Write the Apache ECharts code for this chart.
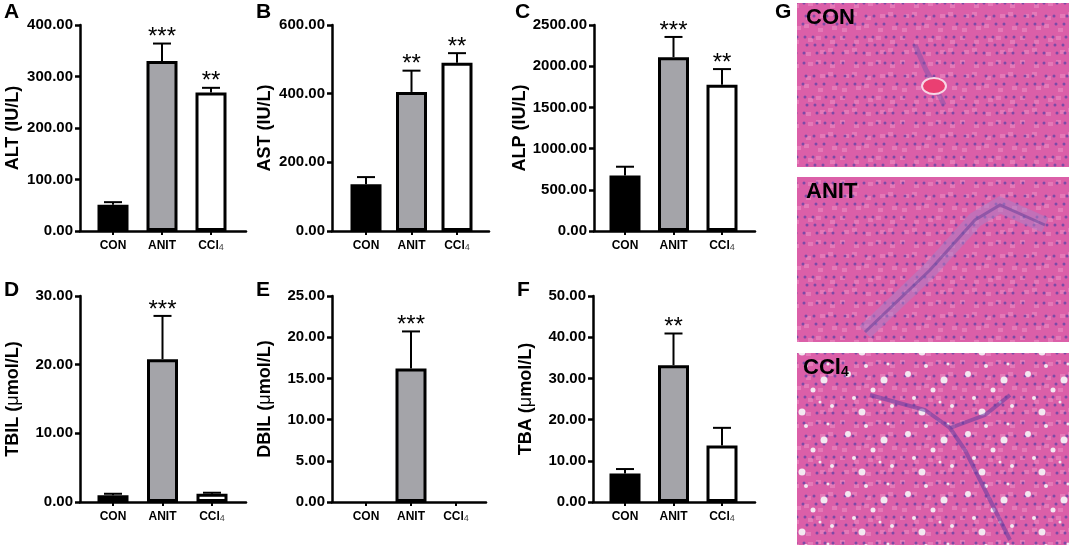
<!DOCTYPE html>
<html>
<head>
<meta charset="utf-8">
<title>Serum liver markers and liver histology</title>
<script src="https://cdn.jsdelivr.net/npm/echarts@6/dist/echarts.min.js"></script>
<style>
  html, body { margin: 0; padding: 0; background: #fff; }
  #main { width: 1072px; height: 545px; }
</style>
</head>
<body>
<div id="main"></div>
<script>
// groups on every x axis
var groups = ['CON', 'ANIT', 'CCl4'];

// A - ALT (IU/L)
var altMean = [51, 330, 269];
var altUpper = [56, 364, 278];
var altStars = ['', '***', '**'];
var altTicks = [0, 100, 200, 300, 400];

// B - AST (IU/L)
var astMean = [136, 405, 490];
var astUpper = [157, 467, 518];
var astStars = ['', '**', '**'];
var astTicks = [0, 200, 400, 600];

// C - ALP (IU/L)
var alpMean = [675, 2110, 1775];
var alpUpper = [780, 2355, 1965];
var alpStars = ['', '***', '**'];
var alpTicks = [0, 500, 1000, 1500, 2000, 2500];

// D - TBIL (umol/L)
var tbilMean = [1.0, 20.8, 1.2];
var tbilUpper = [1.2, 27.1, 1.35];
var tbilStars = ['', '***', ''];
var tbilTicks = [0, 10, 20, 30];

// E - DBIL (umol/L)
var dbilMean = [0, 16.2, 0];
var dbilUpper = [0, 20.7, 0];
var dbilStars = ['', '***', ''];
var dbilTicks = [0, 5, 10, 15, 20, 25];

// F - TBA (umol/L)
var tbaMean = [6.9, 33.2, 13.7];
var tbaUpper = [8.0, 40.9, 18.0];
var tbaStars = ['', '**', ''];
var tbaTicks = [0, 10, 20, 30, 40, 50];

var panels = [
  { letter: 'A', name: 'ALT (IU/L)', mean: altMean, upper: altUpper, stars: altStars, ticks: altTicks },
  { letter: 'B', name: 'AST (IU/L)', mean: astMean, upper: astUpper, stars: astStars, ticks: astTicks },
  { letter: 'C', name: 'ALP (IU/L)', mean: alpMean, upper: alpUpper, stars: alpStars, ticks: alpTicks },
  { letter: 'D', name: 'TBIL ({mu|μ}mol/L)', mean: tbilMean, upper: tbilUpper, stars: tbilStars, ticks: tbilTicks },
  { letter: 'E', name: 'DBIL ({mu|μ}mol/L)', mean: dbilMean, upper: dbilUpper, stars: dbilStars, ticks: dbilTicks },
  { letter: 'F', name: 'TBA ({mu|μ}mol/L)', mean: tbaMean, upper: tbaUpper, stars: tbaStars, ticks: tbaTicks }
];

// pixel layout of each panel (axis line ends and first/last bar centre)
var layout = [
  { left: 80, right: 246, c0: 113, c2: 211, top: 25, lx: 4, ly: 2 },
  { left: 332, right: 489, c0: 366, c2: 457, top: 25, lx: 256, ly: 2 },
  { left: 594, right: 755, c0: 625, c2: 722, top: 25, lx: 515, ly: 2 },
  { left: 80, right: 246, c0: 113, c2: 212, top: 296, lx: 4, ly: 280 },
  { left: 332, right: 486, c0: 366, c2: 456, top: 296, lx: 256, ly: 280 },
  { left: 593, right: 755, c0: 625, c2: 722, top: 296, lx: 517, ly: 280 }
];
var plotHeight = 206;
var barColors = ['#000000', '#a4a4a9', '#ffffff'];
var FONT = 'Liberation Sans, Arial, sans-serif';

var myChart = echarts.init(document.getElementById('main'));

var grids = [], xAxes = [], yAxes = [], series = [], graphics = [];

panels.forEach(function (p, k) {
  var L = layout[k];
  var band = (L.c2 - L.c0) / 2;
  var tMin = p.ticks[0], tMax = p.ticks[p.ticks.length - 1], tStep = p.ticks[1] - p.ticks[0];

  // grid for the axis frame
  grids.push({ left: L.left, top: L.top, width: L.right - L.left, height: plotHeight, containLabel: false, outerBoundsMode: 'none' });
  // grid for the bars (narrower, so bars sit where they do in the figure)
  grids.push({ left: L.c0 - band / 2, top: L.top, width: band * 3, height: plotHeight, containLabel: false, outerBoundsMode: 'none' });

  xAxes.push({
    gridIndex: 2 * k, type: 'category', data: groups,
    axisLine: { lineStyle: { color: '#000', width: 2.5 } },
    axisTick: { show: false }, axisLabel: { show: false }
  });
  xAxes.push({
    gridIndex: 2 * k + 1, type: 'category', data: groups,
    axisLine: { show: false },
    axisTick: { show: true, alignWithLabel: true, interval: 0, length: 4, lineStyle: { color: '#000', width: 2 } },
    axisLabel: {
      interval: 0, margin: 9, color: '#000', fontSize: 12, fontWeight: 'bold', fontFamily: FONT,
      formatter: function (v) { return v === 'CCl4' ? 'CCl{sub|4}' : v; },
      rich: { sub: { fontSize: 9, fontWeight: 'normal', color: '#444', fontFamily: FONT, verticalAlign: 'bottom' } }
    }
  });

  yAxes.push({
    gridIndex: 2 * k, type: 'value', min: tMin, max: tMax, interval: tStep,
    name: p.name, nameLocation: 'middle', nameGap: 58,
    nameTextStyle: {
      color: '#000', fontSize: 18, fontWeight: 'bold', fontFamily: FONT,
      rich: { mu: { color: '#000', fontSize: 18, fontWeight: 'normal', fontFamily: FONT } }
    },
    axisLine: { show: true, lineStyle: { color: '#000', width: 2.5 } },
    axisTick: { show: true, length: 5, lineStyle: { color: '#000', width: 2.5 } },
    axisLabel: {
      margin: 7, color: '#000', fontSize: 15, fontWeight: 'bold', fontFamily: FONT,
      formatter: function (v) { return v.toFixed(2); }
    },
    splitLine: { show: false }
  });
  yAxes.push({
    gridIndex: 2 * k + 1, type: 'value', min: tMin, max: tMax, interval: tStep, show: false
  });

  series.push({
    type: 'bar', xAxisIndex: 2 * k + 1, yAxisIndex: 2 * k + 1,
    barWidth: 31, silent: true,
    data: p.mean.map(function (v, i) {
      return { value: v, itemStyle: { color: barColors[i], borderColor: '#000', borderWidth: v > 0 ? 3 : 0 } };
    })
  });

  series.push({
    type: 'custom', xAxisIndex: 2 * k + 1, yAxisIndex: 2 * k + 1, silent: true,
    data: p.mean.map(function (v, i) { return [i, v, p.upper[i]]; }),
    encode: { x: 0, y: [1, 2] },
    renderItem: function (params, api) {
      var i = api.value(0);
      var base = api.coord([i, api.value(1)]);
      var top = api.coord([i, api.value(2)]);
      var children = [];
      if (api.value(2) > api.value(1)) {
        children.push({ type: 'line', shape: { x1: base[0], y1: base[1], x2: top[0], y2: top[1] }, style: { stroke: '#000', lineWidth: 2 } });
        children.push({ type: 'line', shape: { x1: top[0] - 9, y1: top[1], x2: top[0] + 9, y2: top[1] }, style: { stroke: '#000', lineWidth: 2 } });
      }
      var s = p.stars[params.dataIndex];
      if (s) {
        children.push({
          type: 'text', x: top[0], y: top[1] - 6,
          style: { text: s, fill: '#000', font: '24px ' + FONT, align: 'center', verticalAlign: 'middle' }
        });
      }
      return { type: 'group', children: children };
    }
  });

  graphics.push({
    type: 'text', left: L.lx, top: L.ly,
    style: { text: p.letter, fill: '#000', font: 'bold 21px ' + FONT }
  });
});

// liver tissue texture for panel G
function tissue(vacuoles) {
  var c = document.createElement('canvas');
  c.width = 60; c.height = 60;
  var g = c.getContext('2d');
  g.fillStyle = '#db5fa8';
  g.fillRect(0, 0, 60, 60);
  g.fillStyle = 'rgba(240,150,200,0.5)';
  for (var a = 0; a < 5; a++) {
    for (var b = 0; b < 5; b++) {
      g.fillRect(a * 12 + ((a + b * 2) % 3) * 2, b * 12 + ((a * 2 + b) % 3) * 2, 5, 4);
    }
  }
  g.fillStyle = '#7c4aa6';
  for (var i = 0; i < 6; i++) {
    for (var j = 0; j < 6; j++) {
      var dx = ((i * 3 + j * 7) % 5) - 2, dy = ((i * 5 + j * 3) % 5) - 2;
      g.beginPath();
      g.arc(i * 10 + 5 + dx, j * 10 + 5 + dy, 1.5, 0, Math.PI * 2);
      g.fill();
    }
  }
  if (vacuoles) {
    g.fillStyle = '#f3e9f1';
    var holes = [[8, 14, 3], [26, 6, 2], [44, 20, 3.5], [14, 38, 2], [33, 30, 2.5], [52, 46, 2], [22, 52, 3.5], [48, 4, 1.5], [40, 42, 1.5]];
    holes.forEach(function (h) {
      g.beginPath(); g.arc(h[0], h[1], h[2], 0, Math.PI * 2); g.fill();
    });
  }
  return c;
}
var plain = tissue(false), fatty = tissue(true);

graphics.push(
  { type: 'text', left: 775, top: 2, style: { text: 'G', fill: '#000', font: 'bold 21px ' + FONT } },
  { type: 'rect', shape: { x: 797, y: 3, width: 272, height: 164 }, style: { fill: { image: plain, repeat: 'repeat' } } },
  { type: 'rect', shape: { x: 797, y: 177, width: 272, height: 165 }, style: { fill: { image: plain, repeat: 'repeat' } } },
  { type: 'rect', shape: { x: 797, y: 353, width: 272, height: 192 }, style: { fill: { image: fatty, repeat: 'repeat' } } },
  { type: 'polyline', shape: { points: [[915, 45], [926, 70], [934, 84], [944, 105]] }, style: { stroke: 'rgba(120,80,170,0.45)', lineWidth: 5, fill: null } },
  { type: 'ellipse', shape: { cx: 934, cy: 86, rx: 12, ry: 8 }, style: { fill: '#ea3f72', stroke: '#f7d6e6', lineWidth: 2 } },
  { type: 'polyline', shape: { points: [[865, 332], [930, 270], [975, 220], [1000, 205], [1045, 225]] }, style: { stroke: 'rgba(170,130,200,0.5)', lineWidth: 16, fill: null } },
  { type: 'polyline', shape: { points: [[865, 332], [930, 270], [975, 220], [1000, 205], [1045, 225]] }, style: { stroke: 'rgba(95,60,150,0.5)', lineWidth: 3, fill: null } },
  { type: 'polyline', shape: { points: [[870, 395], [925, 410], [950, 428], [965, 450], [985, 490], [1010, 540]] }, style: { stroke: 'rgba(100,60,160,0.55)', lineWidth: 4, fill: null } },
  { type: 'polyline', shape: { points: [[950, 428], [985, 415], [1010, 395]] }, style: { stroke: 'rgba(100,60,160,0.55)', lineWidth: 4, fill: null } },
  { type: 'text', left: 806, top: 7, style: { text: 'CON', fill: '#000', font: 'bold 22px ' + FONT } },
  { type: 'text', left: 806, top: 181, style: { text: 'ANIT', fill: '#000', font: 'bold 22px ' + FONT } },
  {
    type: 'text', left: 803, top: 357,
    style: {
      text: '{a|CCl}{b|4}', fill: '#000',
      rich: {
        a: { fontSize: 22, fontWeight: 'bold', fontFamily: FONT, fill: '#000', verticalAlign: 'bottom' },
        b: { fontSize: 14, fontWeight: 'bold', fontFamily: FONT, fill: '#000', verticalAlign: 'bottom' }
      }
    }
  }
);

var option = {
  animation: false,
  backgroundColor: '#fff',
  grid: grids,
  xAxis: xAxes,
  yAxis: yAxes,
  series: series,
  graphic: graphics
};

myChart.setOption(option);
</script>
</body>
</html>
